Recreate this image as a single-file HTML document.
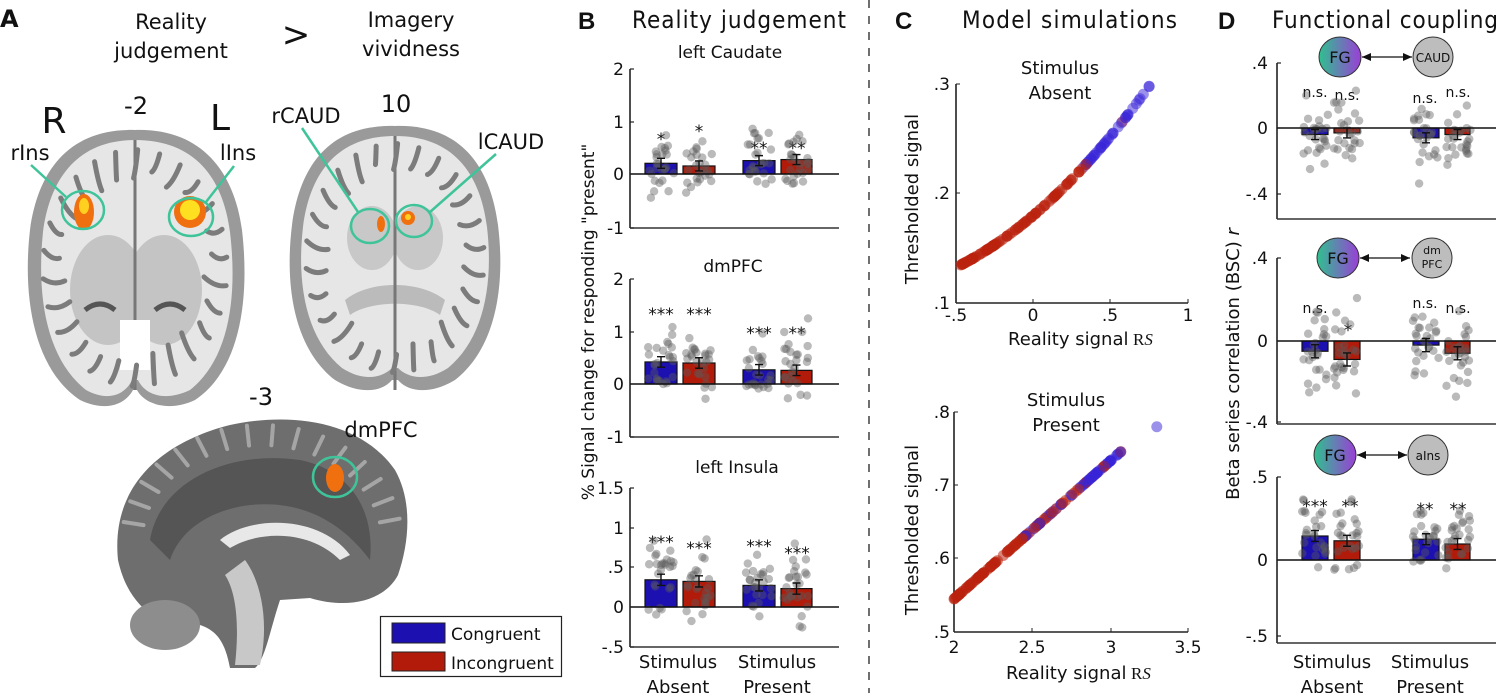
<!DOCTYPE html>
<html><head><meta charset="utf-8"><style>
html,body{margin:0;padding:0;background:#fff;}
svg{display:block;}
text{font-family:"DejaVu Sans","Liberation Sans",sans-serif;fill:#111;}
.tk{font-size:17px;text-anchor:end;}
.ttl{font-family:"DejaVu Sans Condensed","DejaVu Sans",sans-serif;font-size:24px;}
.lab{font-size:18px;text-anchor:middle;}
.st{font-size:17px;text-anchor:middle;}
.ns{font-size:14px;text-anchor:middle;}
</style></head><body>
<svg id="s" width="1500" height="693" viewBox="0 0 1500 693" xmlns="http://www.w3.org/2000/svg">
<rect width="1500" height="693" fill="#fff"/>
<line x1="869" y1="0" x2="869" y2="693" stroke="#222" stroke-width="1.3" stroke-dasharray="8,8"/>

<!-- ================= PANEL A ================= -->
<text x="0" y="27" style="font-size:24px;font-weight:bold">A</text>
<text x="171" y="29" class="lab" style="font-size:21px">Reality</text>
<text x="171" y="58" class="lab" style="font-size:21px">judgement</text>
<text x="296" y="46" class="lab" style="font-size:34px">&gt;</text>
<text x="411" y="27" class="lab" style="font-size:21px">Imagery</text>
<text x="411" y="56" class="lab" style="font-size:21px">vividness</text>

<g id="brains">
<!-- brain 1 axial -->
<path d="M135 130 C70 128 38 170 30 230 C22 300 35 370 80 400 C105 412 125 405 133 390 L137 390 C145 405 170 412 195 400 C240 370 250 300 242 230 C234 170 200 128 135 130 Z" fill="#9a9a9a"/>
<path d="M135 140 C78 140 50 178 43 232 C36 300 48 360 86 390 C108 402 125 395 132 380 L138 380 C145 395 165 402 190 390 C228 360 238 300 230 232 C223 178 195 140 135 140 Z" fill="#e6e6e6"/>
<ellipse cx="108" cy="290" rx="38" ry="55" fill="#c4c4c4"/>
<ellipse cx="164" cy="290" rx="38" ry="55" fill="#c4c4c4"/>
<path d="M135 140 V390" stroke="#777" stroke-width="3"/>
<path d="M120 320 h30 v50 h-30z" fill="#fff"/>
<path d="M85 310 q15 -12 30 0 M155 310 q15 -12 30 0" stroke="#555" stroke-width="5" fill="none"/>
<!-- brain 2 axial -->
<path d="M395 126 C330 124 300 165 292 225 C284 290 296 350 335 380 C360 395 382 392 392 380 L398 380 C408 392 430 395 455 380 C494 350 506 290 498 225 C490 165 460 124 395 126 Z" fill="#9a9a9a"/>
<path d="M395 136 C338 136 310 172 303 227 C296 288 308 340 342 368 C364 382 382 378 392 368 L398 368 C408 378 426 382 448 368 C482 340 494 288 487 227 C480 172 452 136 395 136 Z" fill="#e6e6e6"/>
<ellipse cx="372" cy="238" rx="25" ry="32" fill="#c8c8c8"/>
<ellipse cx="418" cy="238" rx="25" ry="32" fill="#c8c8c8"/>
<path d="M345 300 C370 280 420 280 445 300 L440 315 C420 300 370 300 350 315Z" fill="#bbb"/>
<path d="M395 136 V390" stroke="#777" stroke-width="3"/>
<!-- sagittal -->
<path d="M118 560 C110 480 170 440 230 425 C290 412 360 420 395 470 C412 500 410 540 398 575 C385 600 350 610 310 598 L280 600 C270 630 265 660 255 668 L230 668 C225 640 215 630 200 625 C170 630 130 615 118 560 Z" fill="#6e6e6e"/>
<path d="M150 540 C160 480 230 450 300 460 C350 470 375 510 370 560 C340 520 300 500 250 505 C210 510 180 530 170 560 Z" fill="#555"/>
<path d="M220 540 C250 515 320 515 350 555 L340 560 C310 530 260 530 230 548 Z" fill="#e8e8e8"/>
<path d="M245 560 C260 580 270 620 260 665 L235 665 C240 620 235 590 225 575 Z" fill="#c8c8c8"/>
<ellipse cx="165" cy="625" rx="35" ry="25" fill="#8d8d8d"/>
</g>
<g id="gyri" stroke="#7c7c7c" stroke-width="5" fill="none" stroke-linecap="round"></g>
<g id="blobs">
<ellipse cx="84" cy="212" rx="10" ry="18" fill="#f07010"/>
<ellipse cx="84" cy="206" rx="5" ry="8" fill="#ffd020"/>
<ellipse cx="190" cy="212" rx="16" ry="16" fill="#f07010"/>
<ellipse cx="190" cy="210" rx="10" ry="10" fill="#ffe020"/>
<ellipse cx="381" cy="224" rx="4" ry="8" fill="#f07010"/>
<ellipse cx="408" cy="218" rx="7" ry="7" fill="#f07010"/>
<ellipse cx="408" cy="217" rx="3" ry="3" fill="#ffd020"/>
<ellipse cx="335" cy="478" rx="9" ry="14" fill="#f07010"/>
</g>
<g stroke="#3fc49a" stroke-width="2.5" fill="none">
<ellipse cx="83" cy="210" rx="21" ry="19"/>
<ellipse cx="191" cy="217" rx="22" ry="19"/>
<ellipse cx="370" cy="226" rx="19" ry="17"/>
<ellipse cx="414" cy="221" rx="18" ry="16"/>
<ellipse cx="335" cy="477" rx="22" ry="20"/>
<line x1="31" y1="165" x2="66" y2="197"/>
<line x1="234" y1="166" x2="206" y2="202"/>
<line x1="302" y1="128" x2="358" y2="212"/>
<line x1="496" y1="154" x2="430" y2="212"/>
</g>
<text x="136" y="114" class="lab" style="font-size:24px">-2</text>
<text x="54" y="133" class="lab" style="font-size:36px">R</text>
<text x="220" y="130" class="lab" style="font-size:36px">L</text>
<text x="30" y="160" class="lab" style="font-size:21px">rIns</text>
<text x="238" y="160" class="lab" style="font-size:21px">lIns</text>
<text x="396" y="112" class="lab" style="font-size:24px">10</text>
<text x="306" y="123" class="lab" style="font-size:21px">rCAUD</text>
<text x="511" y="149" class="lab" style="font-size:21px">lCAUD</text>
<text x="261" y="405" class="lab" style="font-size:24px">-3</text>
<text x="381" y="437" class="lab" style="font-size:21px">dmPFC</text>
<rect x="380.5" y="616.5" width="181" height="60" fill="#fff" stroke="#222" stroke-width="1.2"/>
<rect x="392" y="623" width="53" height="20" fill="#1d10b0" stroke="#222"/>
<rect x="392" y="652" width="53" height="19" fill="#b21a0a" stroke="#222"/>
<text x="451" y="640" style="font-size:17px">Congruent</text>
<text x="451" y="669" style="font-size:17px">Incongruent</text>

<!-- ================= PANEL B ================= -->
<text x="578" y="29" class="ttl" style="font-weight:bold;font-family:'Liberation Sans',sans-serif">B</text>
<text x="632" y="28" class="ttl" textLength="214">Reality judgement</text>
<text x="730" y="58" class="st">left Caudate</text>
<text x="733" y="272" class="st">dmPFC</text>
<text x="737" y="473" class="st">left Insula</text>
<text transform="translate(594,322) rotate(-90)" class="lab" style="font-size:17px">% Signal change  for responding "present"</text>
<text x="624" y="75" class="tk">2</text><text x="624" y="128" class="tk">1</text><text x="624" y="180" class="tk">0</text><text x="624" y="234" class="tk">-1</text>
<text x="624" y="285" class="tk">2</text><text x="624" y="338" class="tk">1</text><text x="624" y="390" class="tk">0</text><text x="624" y="443" class="tk">-1</text>
<text x="624" y="494" class="tk">1.5</text><text x="624" y="534" class="tk">1</text><text x="624" y="573" class="tk">.5</text><text x="624" y="613" class="tk">0</text><text x="624" y="653" class="tk">-.5</text>
<text x="661" y="145" class="st">*</text><text x="699" y="137" class="st">*</text><text x="759" y="154" class="st">**</text><text x="797" y="154" class="st">**</text>
<text x="661" y="320" class="st">***</text><text x="699" y="320" class="st">***</text><text x="759" y="339" class="st">***</text><text x="797" y="339" class="st">**</text>
<text x="661" y="548" class="st">***</text><text x="699" y="554" class="st">***</text><text x="759" y="552" class="st">***</text><text x="797" y="559" class="st">***</text>
<text x="678" y="668" class="lab">Stimulus</text><text x="678" y="693" class="lab">Absent</text>
<text x="777" y="668" class="lab">Stimulus</text><text x="777" y="693" class="lab">Present</text>

<!-- ================= PANEL C ================= -->
<text x="895" y="29" class="ttl" style="font-weight:bold;font-family:'Liberation Sans',sans-serif">C</text>
<text x="962" y="28" class="ttl" textLength="215">Model simulations</text>
<text x="1060" y="74" class="lab">Stimulus</text>
<text x="1060" y="99" class="lab">Absent</text>
<text x="1066" y="406" class="lab">Stimulus</text>
<text x="1066" y="431" class="lab">Present</text>
<text transform="translate(918,199) rotate(-90)" class="lab">Thresholded signal</text>
<text transform="translate(918,530) rotate(-90)" class="lab">Thresholded signal</text>
<text x="950" y="90" class="tk">.3</text><text x="950" y="199" class="tk">.2</text><text x="950" y="309" class="tk">.1</text>
<text x="956" y="321" class="st">-.5</text><text x="1033" y="321" class="st">0</text><text x="1110" y="321" class="st">.5</text><text x="1188" y="321" class="st">1</text>
<text x="1008" y="345" style="font-size:18px">Reality signal</text><text x="1133" y="345" style="font-size:17px;font-family:'Liberation Serif',serif">R<tspan font-style="italic">S</tspan></text>
<text x="950" y="418" class="tk">.8</text><text x="950" y="491" class="tk">.7</text><text x="950" y="564" class="tk">.6</text><text x="950" y="638" class="tk">.5</text>
<text x="954" y="653" class="st">2</text><text x="1032" y="653" class="st">2.5</text><text x="1111" y="653" class="st">3</text><text x="1188" y="653" class="st">3.5</text>
<text x="1006" y="679" style="font-size:18px">Reality signal</text><text x="1131" y="679" style="font-size:17px;font-family:'Liberation Serif',serif">R<tspan font-style="italic">S</tspan></text>

<!-- ================= PANEL D ================= -->
<text x="1218" y="29" class="ttl" style="font-weight:bold;font-family:'Liberation Sans',sans-serif">D</text>
<text x="1272" y="28" class="ttl" textLength="226">Functional coupling</text>
<text transform="translate(1239,364) rotate(-90)" class="lab">Beta series correlation (BSC) <tspan font-style="italic">r</tspan></text>
<text x="1268" y="69" class="tk">.4</text><text x="1268" y="134" class="tk">0</text><text x="1268" y="200" class="tk">-.4</text>
<text x="1268" y="264" class="tk">.4</text><text x="1268" y="347" class="tk">0</text><text x="1268" y="428" class="tk">-.4</text>
<text x="1268" y="483" class="tk">.5</text><text x="1268" y="566" class="tk">0</text><text x="1268" y="642" class="tk">-.5</text>
<text x="1315" y="97" class="ns">n.s.</text><text x="1347" y="100" class="ns">n.s.</text><text x="1425" y="103" class="ns">n.s.</text><text x="1458" y="97" class="ns">n.s.</text>
<text x="1315" y="313" class="ns">n.s.</text><text x="1348" y="336" class="st">*</text><text x="1425" y="308" class="ns">n.s.</text><text x="1458" y="313" class="ns">n.s.</text>
<text x="1315" y="512" class="st">***</text><text x="1350" y="512" class="st">**</text><text x="1425" y="515" class="st">**</text><text x="1458" y="515" class="st">**</text>
<text x="1332" y="668" class="lab">Stimulus</text><text x="1332" y="693" class="lab">Absent</text>
<text x="1430" y="668" class="lab">Stimulus</text><text x="1430" y="693" class="lab">Present</text>
<g id="dyn"></g>
<defs>
<linearGradient id="fg" x1="0" y1="0" x2="1" y2="0"><stop offset="0" stop-color="#2fc08f"/><stop offset="1" stop-color="#9a3fd6"/></linearGradient>
</defs>
<g id="nodes">
<line x1="1362" y1="57" x2="1412" y2="57" stroke="#111" stroke-width="1.3"/>
<path d="M1362 57 l9 -4 v8z M1412 57 l-9 -4 v8z" fill="#111"/>
<ellipse cx="1340" cy="57" rx="21" ry="20" fill="url(#fg)" stroke="#333"/>
<ellipse cx="1433" cy="57" rx="20" ry="20" fill="#bdbdbd" stroke="#333"/>
<text x="1340" y="63" class="st" style="font-size:16px">FG</text>
<text x="1433" y="62" class="st" style="font-size:12px">CAUD</text>
<line x1="1360" y1="258" x2="1410" y2="258" stroke="#111" stroke-width="1.3"/>
<path d="M1360 258 l9 -4 v8z M1410 258 l-9 -4 v8z" fill="#111"/>
<ellipse cx="1338" cy="258" rx="21" ry="20" fill="url(#fg)" stroke="#333"/>
<ellipse cx="1432" cy="258" rx="20" ry="20" fill="#bdbdbd" stroke="#333"/>
<text x="1338" y="264" class="st" style="font-size:16px">FG</text>
<text x="1432" y="254" class="st" style="font-size:11px">dm</text>
<text x="1432" y="268" class="st" style="font-size:11px">PFC</text>
<line x1="1357" y1="455" x2="1407" y2="455" stroke="#111" stroke-width="1.3"/>
<path d="M1357 455 l9 -4 v8z M1407 455 l-9 -4 v8z" fill="#111"/>
<ellipse cx="1335" cy="455" rx="21" ry="20" fill="url(#fg)" stroke="#333"/>
<ellipse cx="1428" cy="455" rx="20" ry="20" fill="#bdbdbd" stroke="#333"/>
<text x="1335" y="461" class="st" style="font-size:16px">FG</text>
<text x="1428" y="460" class="st" style="font-size:12px">aIns</text>
</g>
</svg>
<script>
(function(){
var NS="http://www.w3.org/2000/svg",g=document.getElementById("dyn");
var seed=12345;function rnd(){seed=(seed*16807)%2147483647;return seed/2147483647;}
function gauss(){return (rnd()+rnd()+rnd()+rnd()-2)*1.2;}
function mk(t,a,p){var e=document.createElementNS(NS,t);for(var k in a)e.setAttribute(k,a[k]);(p||g).appendChild(e);return e;}
function el(t,a){return mk(t,a,g);}
// gyri texture
var gy=document.getElementById("gyri");
[[135,268,95,122],[395,258,92,118]].forEach(function(b){
  for(var k=0;k<26;k++){
    var a=k/26*Math.PI*2+0.1, r1=0.72+rnd()*0.1, r2=0.97;
    var x1=b[0]+Math.cos(a)*b[2]*r1,y1=b[1]+Math.sin(a)*b[3]*r1,x2=b[0]+Math.cos(a+0.05)*b[2]*r2,y2=b[1]+Math.sin(a+0.05)*b[3]*r2;
    mk("path",{d:"M"+x1+" "+y1+" Q"+(x1+x2)/2+" "+((y1+y2)/2+6)+" "+x2+" "+y2},gy);
  }
});
for(var k=0;k<16;k++){
  var a=Math.PI*(1.05+k/16*0.95), x1=262+Math.cos(a)*120, y1=540+Math.sin(a)*95, x2=262+Math.cos(a)*140, y2=540+Math.sin(a)*115;
  mk("path",{d:"M"+x1+" "+y1+" L"+x2+" "+y2,stroke:"#a5a5a5","stroke-width":4},gy);
}
function panel(ax,right,top,bottom,zero,scale,xs,vals,sd,lo,hi,ticks){
  for(var i=0;i<4;i++){
    var v=vals[i],y=zero-v*scale,h=Math.abs(v*scale);
    el("rect",{x:xs[i][0],y:Math.min(y,zero),width:xs[i][1]-xs[i][0],height:h,fill:i%2?"#b21a0a":"#1d10b0",stroke:"#111","stroke-width":1.2});
  }
  for(var i=0;i<4;i++){
    var cx=(xs[i][0]+xs[i][1])/2;
    for(var j=0;j<26;j++){
      var v=vals[i]+gauss()*sd; if(v<lo)v=lo+rnd()*0.05; if(v>hi)v=hi-rnd()*0.05;
      el("circle",{cx:cx+(rnd()-0.5)*26,cy:zero-v*scale,r:4.2,fill:"rgba(90,90,90,0.42)"});
    }
  }
  for(var i=0;i<4;i++){
    var cx=(xs[i][0]+xs[i][1])/2,y=zero-vals[i]*scale,e=Math.max(5,sd*scale*0.2);
    el("path",{d:"M"+cx+" "+(y-e)+"V"+(y+e)+"M"+(cx-4)+" "+(y-e)+"h8M"+(cx-4)+" "+(y+e)+"h8",stroke:"#111","stroke-width":1.4,fill:"none"});
  }
  el("line",{x1:ax,y1:top,x2:ax,y2:bottom,stroke:"#222","stroke-width":1.6});
  el("line",{x1:ax,y1:bottom,x2:right,y2:bottom,stroke:"#333","stroke-width":1.6});
  el("line",{x1:ax,y1:zero,x2:right,y2:zero,stroke:"#111","stroke-width":1.6});
  ticks.forEach(function(t){el("line",{x1:ax,y1:t,x2:ax+4,y2:t,stroke:"#222","stroke-width":1.2});});
}
var BX=[[645,677],[683,715],[743,775],[781,812]];
panel(630,839,69,228,174,53.5,BX,[0.2,0.15,0.25,0.27],0.4,-1,1.9,[69,122,174,228]);
panel(630,839,279,437,384,52.5,BX,[0.42,0.4,0.27,0.26],0.5,-0.7,2,[279,332,384,437]);
panel(630,839,488,647,607,80,BX,[0.34,0.32,0.27,0.23],0.35,-0.45,1.35,[488,528,567,607,647]);
var DX=[[1302,1328],[1334,1360],[1413,1439],[1445,1470]];
panel(1277,1496,63,219,128,164,DX,[-0.04,-0.03,-0.06,-0.04],0.15,-0.5,0.3,[63,128,194]);
panel(1277,1496,258,424,341,205,DX,[-0.05,-0.09,-0.02,-0.06],0.16,-0.4,0.35,[258,341,422]);
panel(1277,1496,477,643,560,160,DX,[0.15,0.12,0.13,0.1],0.17,-0.5,0.5,[477,560,636]);
function cax(x0,x1,y0,y1,yt,xt){
  el("line",{x1:x0,y1:y0,x2:x0,y2:y1,stroke:"#222","stroke-width":1.6});
  el("line",{x1:x0,y1:y1,x2:x1,y2:y1,stroke:"#222","stroke-width":1.6});
  yt.forEach(function(t){el("line",{x1:x0,y1:t,x2:x0+4,y2:t,stroke:"#222"});});
  xt.forEach(function(t){el("line",{x1:t,y1:y1,x2:t,y2:y1-4,stroke:"#222"});});
}
cax(956,1188,84,303,[84,193,303],[1033,1110,1188]);
cax(954,1188,412,632,[412,485,558,632],[1032,1111,1188]);
var R="rgba(185,35,15,0.55)",B="rgba(55,35,215,0.5)";
for(var i=0;i<140;i++){
  var x=-0.47+Math.pow(rnd(),1.3)*1.22;
  var y=0.18+0.12*x+0.05*x*x;
  var c=x<0.3?R:(x<0.36?(rnd()<0.5?R:B):(Math.abs(x-0.55)<0.03&&rnd()<0.5?R:B));
  el("circle",{cx:956+(x+0.5)*154.7,cy:303-(y-0.1)*1095,r:5.5,fill:c});
}
for(var i=0;i<160;i++){
  var x=2+Math.pow(rnd(),1.2)*1.08;
  var y=0.545+0.188*(x-2);
  var c=x<2.45?R:(x>2.85?(rnd()<0.85?B:R):(rnd()<0.55?R:B));
  el("circle",{cx:954+(x-2)*156,cy:632-(y-0.5)*733,r:5.5,fill:c});
}
el("circle",{cx:954+1.3*156,cy:632-0.28*733,r:5.5,fill:B});
var s=document.getElementById("s");s.appendChild(document.getElementById("nodes"));
})();
</script>
</body></html>
